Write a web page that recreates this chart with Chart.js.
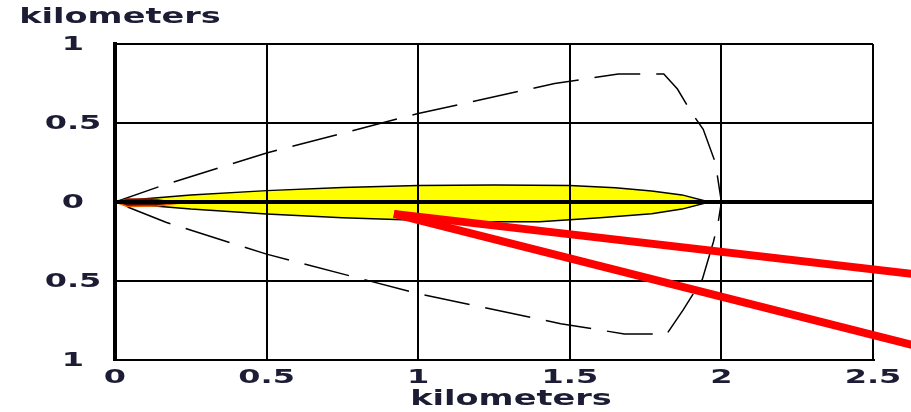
<!DOCTYPE html>
<html lang="en">
<head>
    <meta charset="UTF-8">
    <title>Plume footprint</title>
    <script src="https://cdn.jsdelivr.net/npm/chart.js"></script>
    <style>
        body { margin: 0; background: #fff; }
        #wrap { width: 911px; height: 412px; position: relative; }
    </style>
</head>
<body>
    <div id="wrap"><canvas id="plumeChart"></canvas></div>

    <script>
        // ticks
        var xTicks = [0, 0.5, 1, 1.5, 2, 2.5];
        var xTickLabels = ['0', '0.5', '1', '1.5', '2', '2.5'];
        var yTicks = [-1, -0.5, 0, 0.5, 1];
        var yTickLabels = ['1', '0.5', '0', '0.5', '1'];
        var axisTitle = 'kilometers';

        // yellow plume (upper and lower edge)
        var plumeUpX = [0, 0.1, 0.25, 0.5, 0.75, 1.0, 1.25, 1.5, 1.65, 1.77, 1.87, 1.96];
        var plumeUpY = [0, 0.02, 0.045, 0.072, 0.092, 0.104, 0.108, 0.104, 0.09, 0.07, 0.045, 0];
        var plumeLoX = [0, 0.1, 0.25, 0.5, 0.75, 1.0, 1.2, 1.4, 1.6, 1.77, 1.87, 1.96];
        var plumeLoY = [0, -0.02, -0.045, -0.076, -0.1, -0.115, -0.125, -0.125, -0.1, -0.075, -0.045, 0];

        // dark core near the source
        var coreUpX = [0, 0.04, 0.12, 0.2];
        var coreUpY = [0, 0.02, 0.02, 0];
        var coreLoX = [0, 0.04, 0.14, 0.24];
        var coreLoY = [0, -0.028, -0.026, 0];

        // dashed envelope (closed)
        var envX = [0, 0.15, 0.5, 1.0, 1.45, 1.66, 1.81, 1.855, 1.9, 1.94, 1.98, 2.0,
                    1.99, 1.974, 1.937, 1.875, 1.82, 1.68, 1.47, 1.0, 0.5, 0.17, 0];
        var envY = [0, 0.1, 0.31, 0.56, 0.75, 0.81, 0.81, 0.715, 0.57, 0.46, 0.25, 0,
                    -0.12, -0.25, -0.49, -0.68, -0.835, -0.835, -0.77, -0.58, -0.33, -0.13, 0];

        // centre line
        var centerX = [0, 2.5];
        var centerY = [0, 0];

        // red rays
        var ray1X = [0.92, 2.63];
        var ray1Y = [-0.075, -0.455];
        var ray2X = [0.92, 2.63];
        var ray2Y = [-0.075, -0.905];

        function pts(xs, ys) {
            return xs.map(function (x, i) { return { x: x, y: ys[i] }; });
        }

        function stretchText(ctx, text, cx, cy, sx) {
            ctx.save();
            ctx.translate(cx, cy);
            ctx.scale(sx, 1);
            ctx.textAlign = 'center';
            ctx.textBaseline = 'middle';
            ctx.fillText(text, 0, 0);
            ctx.restore();
        }

        // grid over the yellow plume, labels drawn stretched like the original
        var labelPlugin = {
            id: 'labelPlugin',
            afterDatasetDraw: function (chart, args) {
                if (chart.data.datasets[args.index].id === 'plumeLo') {
                    chart.scales.x.drawGrid(chart.chartArea);
                }
            },
            afterDraw: function (chart) {
                var ctx = chart.ctx;
                var xs = chart.scales.x, ys = chart.scales.y;
                ctx.save();
                ctx.fillStyle = '#1c1c34';
                ctx.font = 'bold 20px "DejaVu Sans"';
                yTicks.forEach(function (v, i) {
                    stretchText(ctx, yTickLabels[i], 73, ys.getPixelForValue(v) + 1, 1.6);
                });
                xTicks.forEach(function (v, i) {
                    stretchText(ctx, xTickLabels[i], xs.getPixelForValue(v), 378, 1.6);
                });
                ctx.font = 'bold 21px "DejaVu Sans"';
                stretchText(ctx, axisTitle, 120, 18, 1.6);
                stretchText(ctx, axisTitle, 511, 400, 1.6);
                ctx.restore();
            }
        };

        var ctx = document.getElementById('plumeChart').getContext('2d');
        var chart = new Chart(ctx, {
            type: 'scatter',
            data: {
                datasets: [
                    { id: 'ray1', data: pts(ray1X, ray1Y), showLine: true, borderColor: '#ff0000', borderWidth: 8, pointRadius: 0, clip: false, order: 0 },
                    { id: 'ray2', data: pts(ray2X, ray2Y), showLine: true, borderColor: '#ff0000', borderWidth: 8, pointRadius: 0, clip: false, order: 0 },
                    { id: 'center', data: pts(centerX, centerY), showLine: true, borderColor: '#000', borderWidth: 4, pointRadius: 0, order: 1 },
                    { id: 'coreUp', data: pts(coreUpX, coreUpY), showLine: true, borderColor: '#a02000', borderWidth: 1, backgroundColor: '#5a0800', fill: '+1', pointRadius: 0, order: 3 },
                    { id: 'coreLo', data: pts(coreLoX, coreLoY), showLine: true, borderColor: '#f06000', borderWidth: 1.5, pointRadius: 0, order: 2 },
                    { id: 'plumeUp', data: pts(plumeUpX, plumeUpY), showLine: true, borderColor: '#000', borderWidth: 1.5, backgroundColor: '#ffff00', fill: '+1', pointRadius: 0, order: 5 },
                    { id: 'plumeLo', data: pts(plumeLoX, plumeLoY), showLine: true, borderColor: '#000', borderWidth: 1.5, pointRadius: 0, order: 4 },
                    { id: 'envelope', data: pts(envX, envY), showLine: true, borderColor: '#000', borderWidth: 1.5, borderDash: [46, 16], pointRadius: 0, order: 6 }
                ]
            },
            options: {
                responsive: true,
                maintainAspectRatio: false,
                animation: false,
                layout: { padding: { left: 115, top: 44, right: 38, bottom: 52 } },
                plugins: {
                    legend: { display: false },
                    tooltip: { enabled: false }
                },
                scales: {
                    x: {
                        type: 'linear', min: 0, max: 2.5,
                        ticks: { stepSize: 0.5, display: false },
                        grid: {
                            color: '#000', drawTicks: false,
                            lineWidth: function (c) { return c.tick && c.tick.value === 0 ? 4 : 2; }
                        },
                        border: { color: '#000', width: 2 }
                    },
                    y: {
                        type: 'linear', min: -1, max: 1,
                        ticks: { stepSize: 0.5, display: false },
                        grid: { color: '#000', drawTicks: false, lineWidth: 2 },
                        border: { color: '#000', width: 4 }
                    }
                }
            },
            plugins: [labelPlugin]
        });
    </script>
</body>
</html>
